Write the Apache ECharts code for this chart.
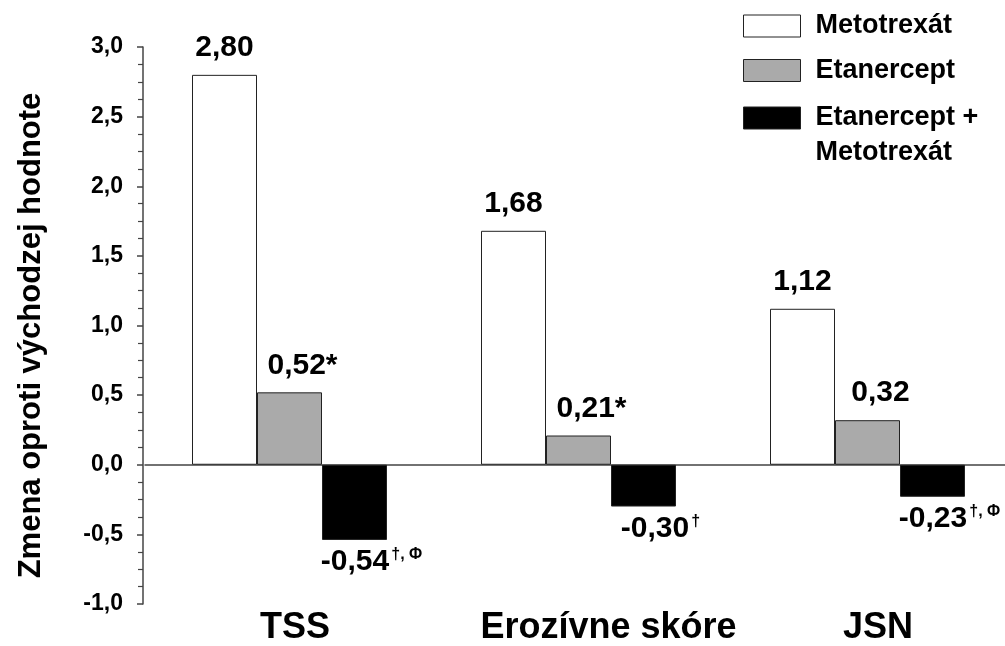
<!DOCTYPE html>
<html>
<head>
<meta charset="utf-8">
<script src="https://cdn.jsdelivr.net/npm/echarts@6/dist/echarts.min.js"></script>
<style>
html,body{margin:0;padding:0;background:#fff;}
#chart{width:1005px;height:646px;}
</style>
</head>
<body>
<div id="chart"></div>
<script>
// ---- data ----
const categories = ['TSS', 'Erozívne skóre', 'JSN'];
const seriesNames = ['Metotrexát', 'Etanercept', 'Etanercept + Metotrexát'];
const metotrexat = [2.80, 1.68, 1.12];
const etanercept = [0.52, 0.21, 0.32];
const kombinacia = [-0.54, -0.30, -0.23];
const etanerceptMarks = ['*', '*', ''];
const kombinaciaMarks = ['†, Φ', '†', '†, Φ'];
const yMin = -1.0, yMax = 3.0, yStep = 0.5;
const yAxisTitle = 'Zmena oproti východzej hodnote';

// ---- chart ----
const FONT = '"Liberation Sans", Arial, Helvetica, sans-serif';
const fmt2 = v => v.toFixed(2).replace('.', ',');
const chart = echarts.init(document.getElementById('chart'), null, {renderer: 'canvas'});

const richBase = {
  v: {fontFamily: FONT, fontWeight: 'bold', fontSize: 30, color: '#000'},
  s: {fontFamily: FONT, fontWeight: 'bold', fontSize: 16, color: '#000', verticalAlign: 'top', padding: [0, 0, 0, 2]}
};

function barSeries(name, values, color, marks, pos, dx) {
  return {
    name: name,
    type: 'bar',
    xAxisIndex: 0,
    barWidth: 65,
    barGap: '0%',
    itemStyle: {color: color, borderColor: '#222', borderWidth: 1},
    label: {
      show: true,
      position: pos,
      distance: pos === 'top' ? 12 : 7,
      offset: [dx, 0],
      rich: richBase,
      formatter: p => {
        const m = marks ? marks[p.dataIndex] : '';
        if (!m) return '{v|' + fmt2(p.value) + '}';
        if (m === '*') return '{v|' + fmt2(p.value) + '*}';
        return '{v|' + fmt2(p.value) + '}{s|' + m + '}';
      }
    },
    data: values
  };
}

const labelShift = [11, 60, 21]; // label padding used to nudge category names

const legendText = {fontFamily: FONT, fontWeight: 'bold', fontSize: 27, color: '#000', padding: [0, 0, 0, 10]};

const option = {
  animation: false,
  backgroundColor: '#fff',
  grid: {left: 145, top: 47, bottom: 42, width: 867, containLabel: false, outerBoundsMode: 'none'},
  legend: [
    {
      data: [seriesNames[0], seriesNames[1]],
      orient: 'vertical', left: 743, top: 11, padding: 0,
      itemWidth: 57, itemHeight: 22, itemGap: 14.5,
      selectedMode: false,
      icon: 'rect',
      itemStyle: {borderColor: '#222', borderWidth: 1},
      textStyle: Object.assign({lineHeight: 30}, legendText)
    },
    {
      data: [seriesNames[2]],
      orient: 'vertical', left: 743, top: 65.5, padding: 0,
      itemWidth: 57, itemHeight: 22,
      selectedMode: false,
      icon: 'rect',
      itemStyle: {borderColor: '#222', borderWidth: 1},
      formatter: () => ' \nEtanercept +\nMetotrexát',
      textStyle: Object.assign({lineHeight: 35}, legendText)
    }
  ],
  xAxis: [
    {
      type: 'category',
      data: categories,
      axisLine: {show: true, onZero: true, lineStyle: {color: '#444', width: 1.5}},
      axisTick: {show: false},
      axisLabel: {show: false},
      splitLine: {show: false}
    },
    {
      type: 'category',
      data: categories.map((c, i) => ({value: c, textStyle: {padding: [0, 0, 0, labelShift[i]]}})),
      position: 'bottom',
      axisLine: {show: false, onZero: false},
      axisTick: {show: false},
      axisLabel: {show: true, interval: 0, margin: 6, fontFamily: FONT, fontWeight: 'bold', fontSize: 36, color: '#000'},
      splitLine: {show: false}
    }
  ],
  yAxis: {
    type: 'value',
    min: yMin, max: yMax, interval: yStep,
    offset: 2,
    name: yAxisTitle,
    nameLocation: 'middle',
    nameGap: 96,
    nameTextStyle: {fontFamily: FONT, fontWeight: 'bold', fontSize: 31, color: '#000', padding: [0, 20, 0, 0]},
    axisLine: {show: true, lineStyle: {color: '#444', width: 1.5}},
    axisTick: {show: true, length: 6, lineStyle: {color: '#444', width: 1.5}},
    minorTick: {show: true, splitNumber: 4, length: 5, lineStyle: {color: '#444', width: 1.2}},
    axisLabel: {margin: 20, fontFamily: FONT, fontWeight: 'bold', fontSize: 23, color: '#000',
      formatter: v => v.toFixed(1).replace('.', ',')},
    splitLine: {show: false}
  },
  series: [
    barSeries(seriesNames[0], metotrexat, '#ffffff', null, 'top', 0),
    barSeries(seriesNames[1], etanercept, '#aaaaaa', etanerceptMarks, 'top', 13),
    barSeries(seriesNames[2], kombinacia, '#000000', kombinaciaMarks, 'bottom', 17)
  ]
};
chart.setOption(option);
</script>
</body>
</html>
